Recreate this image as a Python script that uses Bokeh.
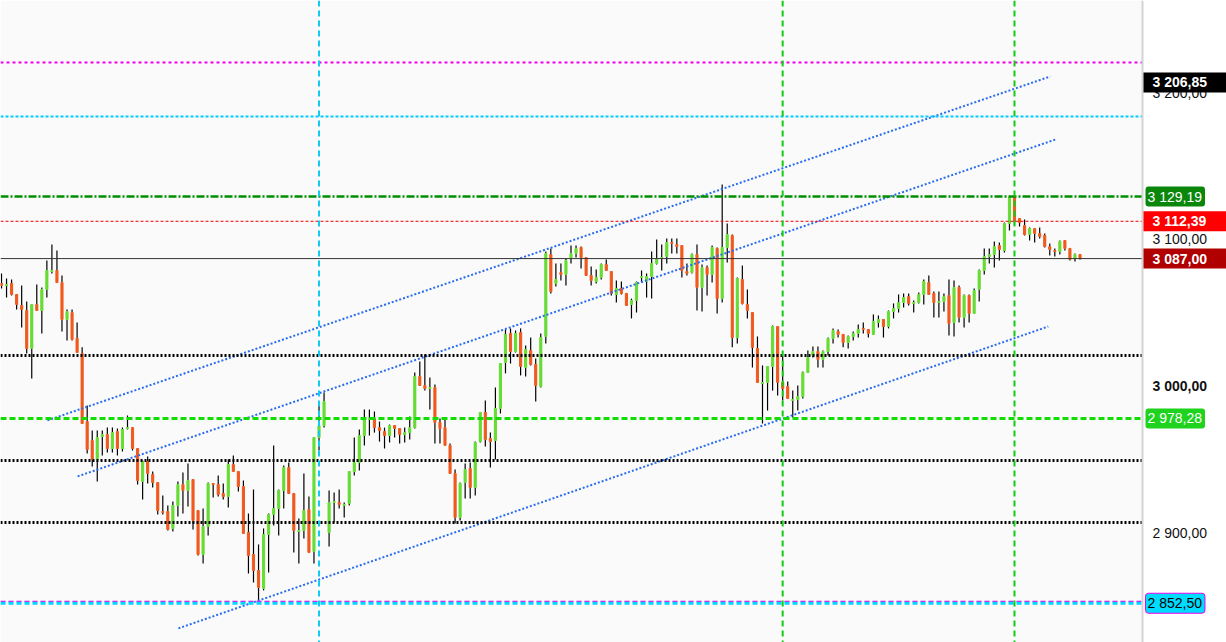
from bokeh.plotting import figure
from bokeh.models import Span, Label, BoxAnnotation, ColumnDataSource, Range1d
from bokeh.embed import file_html
from bokeh.resources import INLINE

# ---------------- data ----------------
opens = [
    3070.1, 3068.7, 3070.1, 3062.6, 3055.1, 3051.7, 3025.9, 3055.8, 3051.7, 3066.0,
    3078.2, 3078.9, 3070.7, 3045.6, 3050.3, 3032.7, 3022.5, 2976.1, 2963.2, 2950.3,
    2965.9, 2967.3, 2957.8, 2969.3, 2957.8, 2971.4, 2972.0, 2957.8, 2935.3, 2948.9,
    2940.1, 2934.6, 2914.9, 2914.9, 2903.4, 2919.0, 2933.3, 2929.2, 2936.7, 2915.6,
    2885.7, 2904.7, 2934.0, 2933.3, 2927.2, 2925.1, 2946.9, 2942.1, 2931.9, 2900.6,
    2885.7, 2874.8, 2862.6, 2899.3, 2912.9, 2917.0, 2929.2, 2944.8, 2927.2, 2901.3,
    2902.0, 2916.3, 2887.8, 2965.2, 2973.4, 2900.6, 2921.1, 2921.1, 2919.0, 2920.4,
    2942.1, 2948.2, 2966.6, 2977.5, 2978.2, 2972.0, 2969.3, 2966.6, 2973.4, 2971.4,
    2967.3, 2968.6, 2972.0, 3006.8, 3000.7, 2998.6, 2999.3, 2975.5, 2972.0, 2959.9,
    2940.8, 2910.9, 2934.6, 2944.2, 2931.3, 2962.5, 2982.3, 2964.6, 2963.2, 2985.0,
    3016.3, 3036.1, 3023.8, 3036.7, 3012.9, 3024.5, 3015.0, 3000.0, 3034.0, 3089.8,
    3070.1, 3077.6, 3076.2, 3087.1, 3090.5, 3094.6, 3087.7, 3075.5, 3071.4, 3074.2,
    3083.0, 3078.2, 3062.6, 3066.6, 3063.3, 3055.8, 3058.5, 3074.2, 3071.4, 3074.8,
    3083.7, 3087.1, 3088.4, 3097.9, 3096.6, 3095.9, 3078.2, 3077.6, 3089.8, 3067.4,
    3080.9, 3076.2, 3093.9, 3059.8, 3094.6, 3102.7, 3033.3, 3072.8, 3055.8, 3050.3,
    3025.9, 3002.0, 3002.7, 3013.6, 3040.8, 3002.7, 3000.0, 2990.4, 2991.1, 2993.2,
    3009.5, 3021.1, 3023.8, 3018.4, 3023.8, 3032.7, 3037.4, 3035.4, 3029.9, 3034.0,
    3036.1, 3039.5, 3038.8, 3035.4, 3043.5, 3045.6, 3040.8, 3051.0, 3053.1, 3057.1,
    3061.2, 3056.5, 3057.1, 3062.6, 3070.7, 3063.3, 3057.1, 3057.8, 3061.9, 3043.5,
    3067.4, 3047.0, 3061.9, 3049.7, 3066.0, 3078.9, 3088.4, 3089.8, 3095.9, 3092.5,
    3110.9, 3128.6, 3114.3, 3109.5, 3103.4, 3107.5, 3104.1, 3102.7, 3095.2, 3092.5,
    3091.8, 3099.3, 3093.9, 3087.1, 3089.8,
]
highs = [
    3076.9, 3073.5, 3072.8, 3062.6, 3068.7, 3057.8, 3055.8, 3069.4, 3067.4, 3085.7,
    3096.6, 3092.5, 3075.5, 3052.4, 3052.4, 3043.5, 3026.6, 2987.0, 2970.0, 2970.0,
    2970.0, 2972.0, 2972.0, 2971.4, 2972.0, 2980.2, 2972.0, 2957.8, 2949.6, 2952.3,
    2942.1, 2934.6, 2925.8, 2919.0, 2921.7, 2935.3, 2941.4, 2947.6, 2936.7, 2915.6,
    2917.0, 2934.6, 2934.0, 2939.4, 2934.0, 2950.3, 2953.0, 2942.1, 2936.0, 2913.6,
    2929.9, 2892.5, 2903.4, 2913.6, 2959.9, 2929.9, 2946.2, 2948.2, 2927.2, 2910.2,
    2940.8, 2925.1, 2965.2, 2989.1, 2995.9, 2929.2, 2927.9, 2929.9, 2921.1, 2942.1,
    2965.2, 2970.7, 2984.3, 2984.3, 2983.0, 2976.1, 2972.0, 2974.1, 2973.4, 2971.4,
    2972.0, 2979.6, 3009.5, 3017.0, 3021.8, 3006.1, 3001.4, 2978.2, 2978.2, 2961.2,
    2943.5, 2934.6, 2947.6, 2948.2, 2962.5, 2982.3, 2990.4, 2968.6, 2999.3, 3015.6,
    3038.8, 3039.5, 3038.1, 3039.5, 3027.9, 3033.3, 3019.0, 3036.1, 3091.8, 3093.9,
    3083.7, 3083.7, 3087.1, 3095.9, 3095.9, 3095.2, 3087.7, 3081.6, 3079.6, 3083.7,
    3086.4, 3078.2, 3072.1, 3071.4, 3063.3, 3059.8, 3071.4, 3078.9, 3076.9, 3091.8,
    3100.0, 3096.6, 3100.7, 3100.7, 3100.7, 3095.9, 3083.7, 3090.5, 3096.6, 3083.0,
    3082.3, 3095.9, 3094.6, 3137.4, 3110.9, 3103.4, 3074.2, 3082.3, 3066.0, 3050.3,
    3034.0, 3014.3, 3013.6, 3041.5, 3040.8, 3021.1, 3003.4, 2997.2, 3000.7, 3010.2,
    3024.5, 3027.2, 3027.2, 3024.5, 3033.3, 3039.5, 3038.8, 3035.4, 3034.7, 3037.4,
    3042.2, 3043.5, 3038.8, 3049.0, 3048.3, 3045.6, 3051.7, 3056.5, 3062.6, 3063.3,
    3063.3, 3058.5, 3063.9, 3072.8, 3075.5, 3064.6, 3064.6, 3063.3, 3072.8, 3072.1,
    3068.7, 3062.6, 3062.6, 3066.7, 3079.6, 3093.9, 3093.9, 3098.6, 3097.9, 3111.5,
    3129.19, 3129.0, 3114.3, 3113.6, 3108.1, 3107.5, 3108.1, 3104.1, 3097.3, 3093.9,
    3099.3, 3099.3, 3093.9, 3090.5, 3089.8,
]
lows = [
    3066.7, 3060.5, 3061.9, 3052.4, 3040.1, 3022.5, 3005.5, 3051.7, 3036.1, 3060.5,
    3076.9, 3070.7, 3037.4, 3031.3, 3031.3, 3023.1, 2974.8, 2954.4, 2945.5, 2935.3,
    2953.0, 2955.0, 2955.0, 2953.0, 2955.7, 2970.7, 2956.4, 2933.3, 2923.1, 2934.0,
    2931.3, 2912.9, 2912.9, 2902.0, 2901.3, 2911.5, 2913.6, 2918.3, 2902.7, 2885.0,
    2879.6, 2898.6, 2924.5, 2925.1, 2923.1, 2917.6, 2942.1, 2928.5, 2900.0, 2872.8,
    2866.7, 2854.4, 2861.2, 2873.5, 2905.4, 2898.6, 2917.0, 2927.2, 2887.1, 2879.6,
    2896.6, 2887.1, 2879.6, 2956.4, 2972.0, 2891.1, 2907.5, 2917.0, 2910.9, 2919.0,
    2939.4, 2942.8, 2959.9, 2966.6, 2968.6, 2962.5, 2957.8, 2961.9, 2965.2, 2961.2,
    2961.9, 2963.9, 2971.4, 3000.7, 2997.2, 2984.3, 2961.2, 2961.2, 2959.9, 2940.8,
    2906.8, 2908.8, 2923.8, 2923.8, 2925.8, 2961.9, 2959.2, 2944.8, 2950.3, 2981.6,
    3008.9, 3015.6, 3023.1, 3007.5, 3006.8, 3014.3, 2989.8, 2999.3, 3029.3, 3063.3,
    3068.0, 3072.1, 3068.7, 3083.7, 3087.7, 3080.3, 3075.5, 3068.7, 3070.1, 3072.8,
    3078.9, 3061.9, 3057.1, 3062.6, 3055.1, 3046.3, 3050.3, 3070.7, 3060.5, 3059.8,
    3083.0, 3078.9, 3083.7, 3090.5, 3090.5, 3074.2, 3075.5, 3076.9, 3051.7, 3051.0,
    3061.9, 3070.7, 3049.7, 3057.1, 3084.4, 3026.6, 3029.3, 3055.8, 3046.3, 3012.9,
    3002.7, 2974.8, 2983.6, 2997.2, 2993.9, 2990.4, 2991.8, 2978.9, 2983.6, 2991.8,
    3009.5, 3019.7, 3012.9, 3012.9, 3021.1, 3029.3, 3033.3, 3026.6, 3025.9, 3031.3,
    3033.3, 3036.1, 3033.3, 3035.4, 3040.1, 3033.3, 3039.5, 3046.3, 3050.3, 3053.8,
    3055.1, 3050.3, 3056.5, 3055.8, 3062.6, 3047.0, 3047.0, 3051.0, 3034.7, 3034.0,
    3043.5, 3040.1, 3043.5, 3049.7, 3057.8, 3076.2, 3083.7, 3080.9, 3085.7, 3091.1,
    3106.1, 3109.5, 3108.9, 3102.7, 3099.3, 3097.9, 3100.7, 3094.6, 3089.1, 3088.4,
    3089.8, 3092.5, 3085.7, 3085.0, 3086.4,
]
closes = [
    3068.7, 3069.4, 3062.6, 3055.8, 3052.4, 3025.9, 3055.8, 3051.7, 3066.0, 3078.9,
    3078.9, 3070.7, 3045.6, 3051.0, 3032.0, 3023.1, 2974.8, 2957.1, 2950.3, 2965.2,
    2967.3, 2957.8, 2968.6, 2957.8, 2970.7, 2972.0, 2957.8, 2936.0, 2948.9, 2940.8,
    2934.6, 2915.6, 2914.2, 2902.7, 2919.0, 2933.3, 2929.2, 2936.0, 2908.8, 2885.7,
    2904.7, 2934.0, 2933.3, 2926.5, 2925.1, 2946.9, 2942.1, 2931.9, 2900.0, 2885.0,
    2874.8, 2863.3, 2899.3, 2912.9, 2917.0, 2929.2, 2944.8, 2927.2, 2902.0, 2902.0,
    2915.6, 2887.1, 2965.2, 2973.4, 2989.8, 2921.1, 2921.7, 2919.7, 2919.7, 2942.1,
    2948.2, 2966.6, 2977.5, 2978.2, 2972.0, 2970.0, 2966.6, 2973.4, 2971.4, 2967.3,
    2968.6, 2972.0, 3006.8, 3000.7, 2998.6, 2999.3, 2975.5, 2971.4, 2959.9, 2940.8,
    2910.9, 2934.0, 2943.5, 2931.3, 2961.9, 2982.3, 2963.9, 2962.5, 2985.0, 3015.6,
    3035.4, 3023.8, 3036.1, 3013.6, 3025.2, 3015.0, 3000.7, 3033.3, 3090.5, 3064.6,
    3072.8, 3076.2, 3085.7, 3090.5, 3093.9, 3087.7, 3075.5, 3072.1, 3074.2, 3083.0,
    3078.9, 3063.3, 3066.6, 3063.3, 3055.1, 3058.5, 3070.7, 3074.8, 3074.8, 3083.7,
    3087.1, 3087.7, 3097.9, 3097.3, 3095.2, 3078.9, 3076.9, 3089.8, 3067.4, 3080.9,
    3076.2, 3094.6, 3059.8, 3094.6, 3103.4, 3033.3, 3073.5, 3056.5, 3051.7, 3026.6,
    3002.7, 3002.7, 3013.6, 3040.8, 3002.7, 2998.6, 2991.8, 2991.1, 2993.2, 3009.5,
    3019.7, 3023.8, 3018.4, 3023.8, 3032.7, 3038.1, 3035.4, 3029.9, 3034.0, 3036.1,
    3038.8, 3038.8, 3036.1, 3044.2, 3045.6, 3040.8, 3051.0, 3053.1, 3057.1, 3060.5,
    3056.5, 3057.1, 3062.6, 3071.4, 3062.6, 3057.1, 3057.8, 3061.2, 3042.9, 3067.4,
    3047.0, 3061.9, 3049.7, 3065.3, 3078.9, 3088.4, 3089.8, 3095.2, 3093.2, 3110.9,
    3128.6, 3112.2, 3111.5, 3103.4, 3107.5, 3104.1, 3102.0, 3095.2, 3093.2, 3091.8,
    3098.6, 3093.9, 3086.4, 3089.8, 3087.0,
]

# horizontal levels (price)
level_prices = [3220.4, 3183.7, 3129.19, 3112.39, 3087.00, 3021.1, 2978.28, 2949.7, 2907.5, 2852.5]
# vertical markers (bar index)
marker_bars = [63, 155, 201]
# trend channel lines: (bar, price) start and end
trend_x0 = [9.1, 15.1, 35.1]
trend_y0 = [2976.9, 2938.8, 2835.4]
trend_x1 = [208.1, 209.1, 207.7]
trend_y1 = [3210.9, 3168.0, 3040.8]
# price tags on the axis
tag_values = [3206.85, 3129.19, 3112.39, 3087.00, 2978.28, 2852.50]
# axis ticks
tick_values = [2900, 3000, 3100, 3200]
bold_tick = 3000

# ---------------- styles / layout ----------------
FONT = "Liberation Sans"
W, H = 1226, 642          # whole frame (chart + price scale)
CW = 1142                 # chart part width in px
X_LO, X_HI = -0.2, 226.4  # bar range shown in the chart part
Y_LO, Y_HI = 2825.8, 3262.6
UP, DOWN = "#66dd33", "#f05a1e"

level_styles = [
    ("#ee00ee", 2, "3 3"),
    ("#00ccff", 2, "3 2"),
    ("#008f00", 2.5, "8 2 2 2"),
    ("#ee0000", 1, "3 2"),
    ("#333333", 1, "solid"),
    ("black", 3, "2 2"),
    ("#11dd00", 3, "6 3"),
    ("black", 3, "2 2"),
    ("black", 3, "2 2"),
    ("#00d8ff", 3, "5 3"),
]
marker_colors = ["#11ccf0", "#11cc11", "#11cc11"]
tag_styles = [
    dict(bg="black", fg="white", bold=True, full=True, edge=None),
    dict(bg="#0a870a", fg="white", bold=False, full=False, edge=None),
    dict(bg="#ff0000", fg="white", bold=True, full=True, edge=None),
    dict(bg="#b00000", fg="white", bold=True, full=True, edge=None),
    dict(bg="#1ed21e", fg="white", bold=False, full=False, edge=None),
    dict(bg="#00dcff", fg="black", bold=False, full=False, edge="#ee00ee"),
]


def fmt(v):
    return format(v, ",.2f").replace(",", " ").replace(".", ",")


x_edge = X_HI
x_full_hi = X_LO + (X_HI - X_LO) * W / CW

p = figure(frame_width=W, frame_height=H,
           x_range=Range1d(X_LO, x_full_hi), y_range=Range1d(Y_LO, Y_HI),
           x_axis_location=None, y_axis_location=None,
           toolbar_location=None, output_backend="svg",
           min_border=0, background_fill_color="white", border_fill_color="white",
           outline_line_color=None)
p.grid.visible = False

# chart area background
p.add_layout(BoxAnnotation(right=x_edge, fill_color="#fafafa", fill_alpha=1,
                           line_color=None, level="underlay"))

idx = list(range(len(opens)))
src = ColumnDataSource(dict(
    x=idx, h=highs, l=lows,
    top=[max(o, c) for o, c in zip(opens, closes)],
    bottom=[min(o, c) for o, c in zip(opens, closes)],
    color=[UP if c > o else DOWN for o, c in zip(opens, closes)],
))
p.segment(x0="x", y0="h", x1="x", y1="l", source=src, line_color="black", line_width=1.2)
p.vbar(x="x", top="top", bottom="bottom", width=0.42, source=src,
       fill_color="color", line_color="color", line_width=1)

# trend channel
for x0, y0, x1, y1 in zip(trend_x0, trend_y0, trend_x1, trend_y1):
    p.line([x0, x1], [y0, y1], line_color="#2a6cf0", line_width=2, line_dash="2 2")

# horizontal levels
p.add_layout(Span(location=level_prices[-1] + 1.2, dimension="width",
                  line_color="#ee00ee", line_width=1.5, line_dash="5 3"))
for lv, (col, w, dash) in zip(level_prices, level_styles):
    p.add_layout(Span(location=lv, dimension="width", line_color=col,
                      line_width=w, line_dash=dash))

# vertical markers
for b, col in zip(marker_bars, marker_colors):
    p.add_layout(Span(location=b, dimension="height", line_color=col,
                      line_width=2, line_dash="6 4"))

# price scale area (covers level lines), separator line
p.add_layout(BoxAnnotation(left=x_edge, fill_color="white", fill_alpha=1, line_color=None))
p.add_layout(Span(location=x_edge, dimension="height", line_color="#d4d4d4", line_width=2))

# tick labels
for t in tick_values:
    p.add_layout(Label(x=CW + 10, y=t, x_units="screen", text=fmt(t),
                       text_font=FONT, text_font_size="14px",
                       text_font_style="bold" if t == bold_tick else "normal",
                       text_color="#111111", text_align="left", text_baseline="middle"))

# price tags
for v, st in zip(tag_values, tag_styles):
    if st["full"]:
        pad = dict(left=9, right=30, top=2, bottom=2)
        xs = CW + 1
        rad = 0
    else:
        pad = dict(left=2, right=3, top=2, bottom=2)
        xs = CW + 3
        rad = 3
    extra = {}
    if st["edge"]:
        extra = dict(border_line_color=st["edge"], border_line_width=1)
    p.add_layout(Label(x=xs, y=v, x_units="screen", text=fmt(v),
                       text_font=FONT, text_font_size="14px",
                       text_font_style="bold" if st["bold"] else "normal",
                       text_color=st["fg"], text_align="left", text_baseline="middle",
                       background_fill_color=st["bg"], padding=pad, border_radius=rad,
                       **extra))

open("out.html", "w").write(file_html(p, INLINE))
